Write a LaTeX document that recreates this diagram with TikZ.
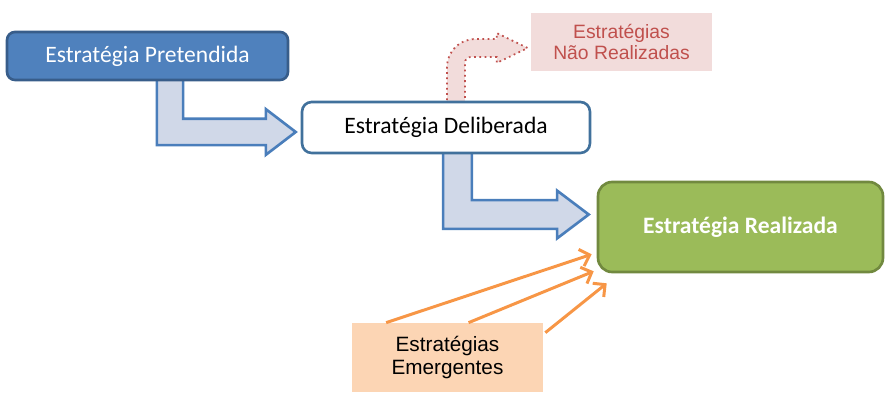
\documentclass[tikz,border=0pt]{standalone}
\usepackage{fontspec}
\setmainfont{Carlito}
\newfontfamily\arialfont{Liberation Sans}
\usetikzlibrary{calc,arrows.meta,backgrounds}

\definecolor{pretblue}{HTML}{4F81BD}
\definecolor{pretline}{HTML}{385D8A}
\definecolor{delibline}{HTML}{41719C}
\definecolor{arrowfill}{HTML}{D0D8E8}
\definecolor{arrowline}{HTML}{4A7EBB}
\definecolor{realgreen}{HTML}{9BBB59}
\definecolor{realline}{HTML}{71893F}
\definecolor{naofill}{HTML}{F2DCDB}
\definecolor{naotext}{HTML}{C0504D}
\definecolor{emergfill}{HTML}{FCD5B4}
\definecolor{emergline}{HTML}{F79646}

\tikzset{
  boxfont/.style={font=\fontsize{13.4}{16}\selectfont},
  pretbox/.style={boxfont, draw=pretline, fill=pretblue, text=white, line width=1.5pt,
    rounded corners=4.5pt, minimum width=5.62cm, minimum height=0.96cm},
  delibbox/.style={boxfont, draw=delibline, fill=white, line width=1.5pt,
    rounded corners=5.5pt, minimum width=5.76cm, minimum height=1.02cm},
  realbox/.style={font=\fontsize{13.4}{16}\selectfont\bfseries, draw=realline, fill=realgreen,
    text=white, line width=1.5pt, rounded corners=8pt, minimum width=5.7cm, minimum height=1.8cm},
  naobox/.style={font=\arialfont\fontsize{11}{12}\selectfont, fill=naofill, text=naotext,
    align=center, minimum width=3.62cm, minimum height=1.16cm},
  emergbox/.style={font=\arialfont\fontsize{11.8}{13}\selectfont, fill=emergfill,
    align=center, minimum width=3.82cm, minimum height=1.38cm},
  blockarrow/.style={draw=arrowline, fill=arrowfill, line width=1.5pt},
  lostarrow/.style={draw=naotext, fill=naofill, line width=1pt, dotted},
  emergarrow/.style={draw=emergline, line width=1.7pt,
    -{Straight Barb[length=5pt,width=10pt]}},
}

% bent block arrow: style, start, tip, shaft half width, head half width, head length
\newcommand{\bentarrow}[6]{%
  \draw[#1] let \p1=(#2), \p2=(#3) in
    (\x1-#4,\y1) -- (\x1-#4,\y2-#4) -- (\x2-#6,\y2-#4) -- (\x2-#6,\y2-#5)
    -- (\x2,\y2) -- (\x2-#6,\y2+#5) -- (\x2-#6,\y2+#4) -- (\x1+#4,\y2+#4)
    -- (\x1+#4,\y1) -- cycle;}

\begin{document}
\begin{tikzpicture}[x=0.02cm,y=-0.02cm]
	\useasboundingbox (0,0) rectangle (892,401);

	% caixas
	\node[pretbox] (pret) at (147.5,56) {Estratégia Pretendida};
	\node[delibbox] (delib) at (446,127.5) {Estratégia Deliberada};
	\node[realbox] (real) at (740.5,227) {Estratégia Realizada};
	\node[naobox] (nao) at (621.5,42) {Estratégias\\Não Realizadas};
	\node[emergbox] (emerg) at (447.5,357.5) {Estratégias\\Emergentes};

	% pontas das setas largas
	\coordinate (s1) at ($(pret.south)+(22.5,-10)$);
	\coordinate (t1) at ($(delib.west)+(-5,4.5)$);
	\coordinate (s2) at ($(delib.south)+(11.5,-10)$);
	\coordinate (t2) at ($(real.west)+(-8,-12.5)$);
	\coordinate (s3) at ($(delib.north)+(10,10)$);
	\coordinate (t3) at ($(nao.west)+(-3,6)$);

	\begin{scope}[on background layer]
		% pretendida -> deliberada -> realizada
		\bentarrow{blockarrow}{s1}{t1}{7.5pt}{13pt}{17pt}
		\bentarrow{blockarrow}{s2}{t2}{8.2pt}{13.6pt}{18pt}

		% deliberada -> nao realizadas
		\draw[lostarrow] let \p1=(s3), \p2=(t3) in
			(\x1-5.1pt,\y1) -- (\x1-5.1pt,\y2-10.9pt)
			.. controls (\x1-5.1pt,\y2-2pt) and (\x1+2pt,\y2+5.1pt) .. (\x1+10.9pt,\y2+5.1pt)
			-- (\x2-17.6pt,\y2+5.1pt) -- (\x2-17.6pt,\y2+8.5pt) -- (\x2,\y2)
			-- (\x2-17.6pt,\y2-8.5pt) -- (\x2-17.6pt,\y2-5.1pt) -- (\x1+8.5pt,\y2-5.1pt)
			.. controls (\x1+6.5pt,\y2-5.1pt) and (\x1+5.1pt,\y2-6.5pt) .. (\x1+5.1pt,\y2-8.5pt)
			-- (\x1+5.1pt,\y1) -- cycle;
	\end{scope}

	% emergentes -> realizada
	\coordinate (e1) at ($(emerg.north west)!0.18!(emerg.north east)$);
	\coordinate (e2) at ($(emerg.north west)!0.61!(emerg.north east)$);
	\coordinate (e3) at ($(emerg.north east)+(2,10)$);
	\coordinate (r1) at ($(real.south west)+(-5,-19)$);
	\coordinate (r2) at ($(real.south west)+(-3,-2)$);
	\coordinate (r3) at ($(real.south west)+(10,10)$);
	\draw[emergarrow] (e1) -- (r1);
	\draw[emergarrow] (e2) -- (r2);
	\draw[emergarrow] (e3) -- (r3);

\end{tikzpicture}
\end{document}
